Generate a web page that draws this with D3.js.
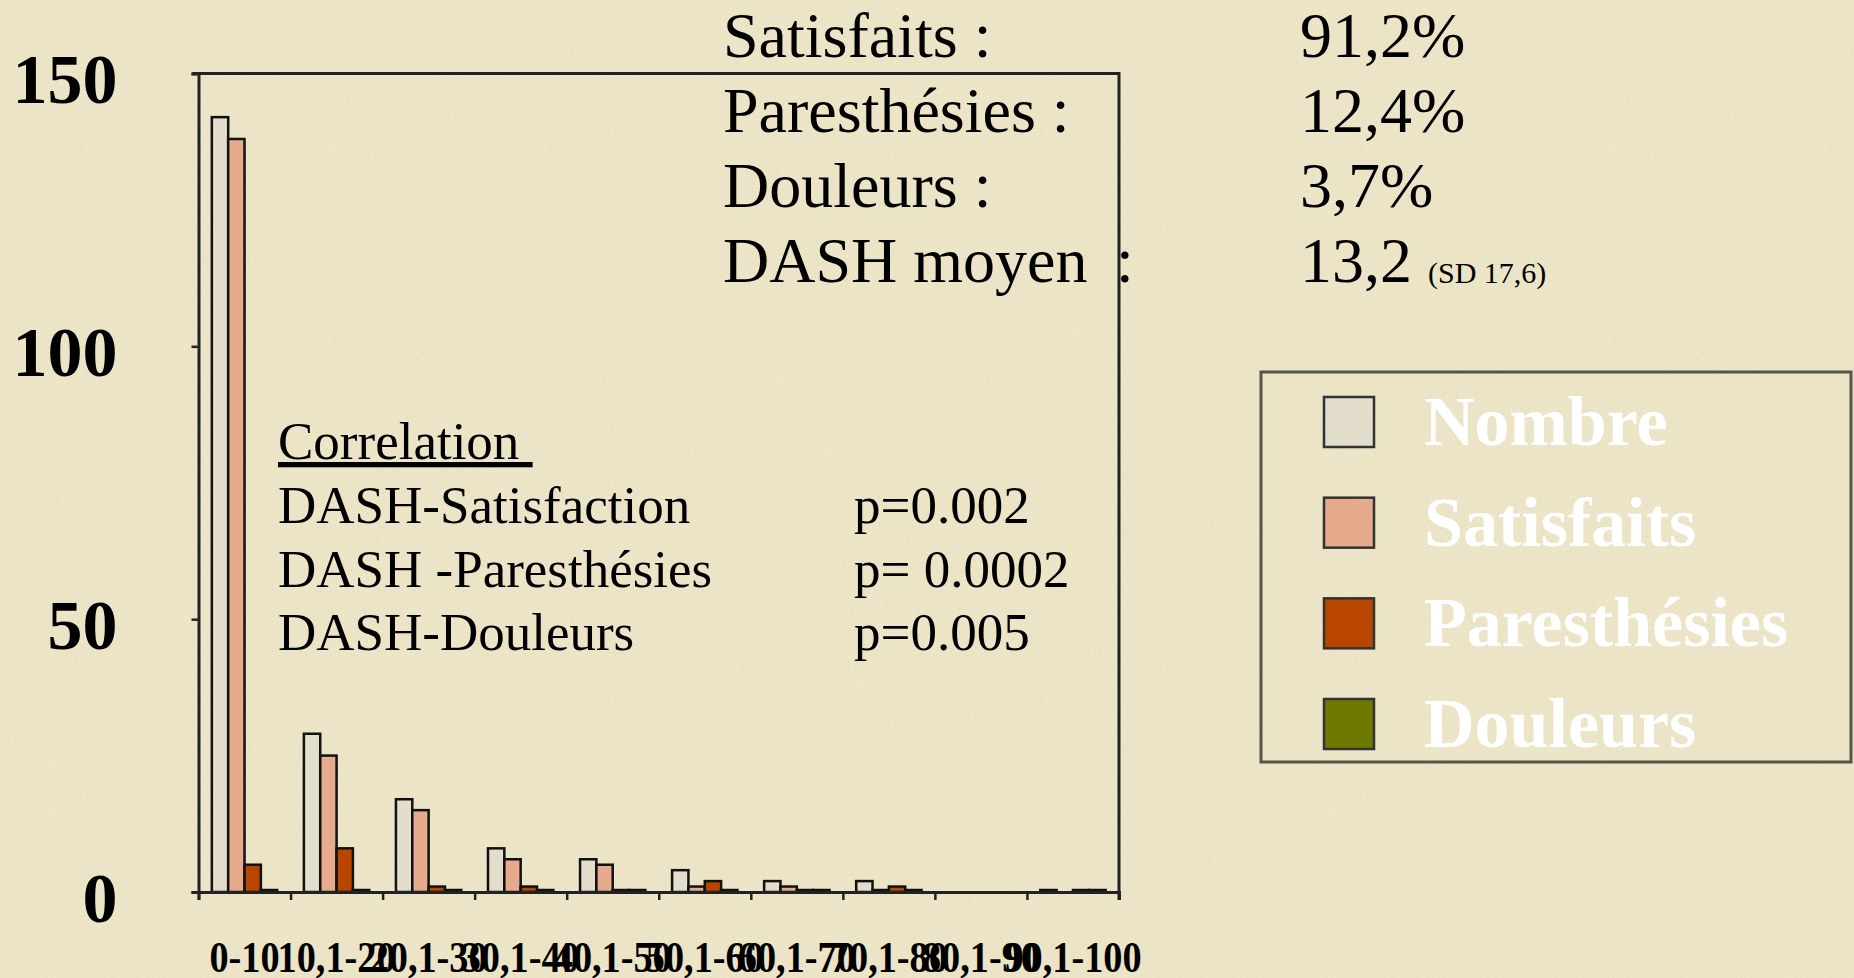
<!DOCTYPE html>
<html>
<head>
<meta charset="utf-8">
<script src="https://cdn.jsdelivr.net/npm/d3@7"></script>
<style>
html, body { margin: 0; padding: 0; background: #ECE5C8; overflow: hidden; }
svg text { font-family: "Liberation Serif", "Times New Roman", serif; }
</style>
</head>
<body>
<div id="chart"></div>
<script>
// categories (DASH score ranges)
var categories = ["0-10", "10,1-20", "20,1-30", "30,1-40", "40,1-50", "50,1-60", "60,1-70", "70,1-80", "80,1-90", "90,1-100"];

// series values (null = no value in the sheet)
var nombre       = [142, 29, 17, 8, 6, 4, 2, 2, null, 0];
var satisfaits   = [138, 25, 15, 6, 5, 1, 1, 0, null, null];
var paresthesies = [5, 8, 1, 1, 0, 2, 0, 1, null, 0];
var douleurs     = [0, 0, 0, 0, 0, 0, 0, 0, null, 0];

var seriesNames  = ["Nombre", "Satisfaits", "Paresthésies", "Douleurs"];
var seriesColors = ["#E3DDCB", "#E5AB8C", "#B84600", "#6F7900"];
var yTicks = [0, 50, 100, 150];

// text blocks
var summaryLabels = ["Satisfaits :", "Paresthésies :", "Douleurs :", "DASH moyen"];
var summaryValues = ["91,2%", "12,4%", "3,7%", "13,2"];
var corrTitle  = "Correlation\u00A0";
var corrLabels = ["DASH-Satisfaction", "DASH -Paresthésies", "DASH-Douleurs"];
var corrValues = ["p=0.002", "p= 0.0002", "p=0.005"];

var W = 1854, H = 978;
var plot = { left: 198.5, right: 1119, top: 73.5, bottom: 892 };

var svg = d3.select("#chart").append("svg")
	.attr("width", W)
	.attr("height", H);

// paper texture
var defs = svg.append("defs");
var f = defs.append("filter").attr("id", "paper").attr("x", 0).attr("y", 0).attr("width", 1).attr("height", 1);
f.append("feTurbulence").attr("type", "fractalNoise").attr("baseFrequency", "0.6 0.9").attr("numOctaves", 3).attr("seed", 3);
f.append("feColorMatrix").attr("type", "matrix")
	.attr("values", "0 0 0 0 0.6  0 0 0 0 0.55  0 0 0 0 0.4  0 0 0 -1.2 0.7");

svg.append("rect").attr("width", W).attr("height", H).attr("fill", "#EDE6C9");
svg.append("rect").attr("width", W).attr("height", H).attr("filter", "url(#paper)").attr("opacity", 0.45);

// scales
var x0 = d3.scaleBand()
	.domain(categories)
	.range([plot.left, plot.right])
	.paddingInner(0.29)
	.paddingOuter(0.145);

var x1 = d3.scaleBand()
	.domain(seriesNames)
	.range([0, x0.bandwidth()]);

var xEdge = d3.scaleLinear()
	.domain([0, categories.length])
	.range([plot.left, plot.right]);

var y = d3.scaleLinear()
	.domain([0, 150])
	.range([plot.bottom, plot.top]);

var color = d3.scaleOrdinal().domain(seriesNames).range(seriesColors);

// plot frame (top and right)
svg.append("path")
	.attr("d", "M" + (plot.left - 6) + "," + plot.top + "H" + plot.right + "V" + (plot.bottom + 8))
	.attr("fill", "none")
	.attr("stroke", "#222")
	.attr("stroke-width", 3);

// bars
var rows = categories.map(function(c, i) {
	return { cat: c, values: [nombre[i], satisfaits[i], paresthesies[i], douleurs[i]] };
});

var groups = svg.append("g").selectAll("g")
	.data(rows)
	.enter().append("g")
	.attr("transform", function(d) { return "translate(" + x0(d.cat) + ",0)"; });

groups.selectAll("rect")
	.data(function(d) {
		return seriesNames.map(function(s, k) { return { key: s, value: d.values[k] }; })
			.filter(function(e) { return e.value !== null; });
	})
	.enter().append("rect")
	.attr("x", function(d) { return x1(d.key); })
	.attr("y", function(d) { return Math.min(y(d.value), y(0) - 2); })
	.attr("width", x1.bandwidth())
	.attr("height", function(d) { return Math.max(2, y(0) - y(d.value)); })
	.attr("fill", function(d) { return d.value === 0 ? "#222" : color(d.key); })
	.attr("stroke", "#111")
	.attr("stroke-width", 2.5);

// y axis
var yAxis = svg.append("g")
	.attr("transform", "translate(" + plot.left + ",0)")
	.call(d3.axisLeft(y).tickValues(yTicks).tickSize(7).tickPadding(74).tickFormat(d3.format("d")));
yAxis.select(".domain").attr("stroke", "#222").attr("stroke-width", 3);
yAxis.selectAll(".tick line").attr("stroke", "#222").attr("stroke-width", 2.5);
yAxis.selectAll("text")
	.attr("fill", "#000")
	.attr("dy", "0.42em")
	.style("font-size", "70px")
	.style("font-weight", "bold");

// x axis: ticks at band edges
var xTicksAxis = svg.append("g")
	.attr("transform", "translate(0," + plot.bottom + ")")
	.call(d3.axisBottom(xEdge).ticks(categories.length).tickSize(8).tickFormat(""));
xTicksAxis.select(".domain").attr("stroke", "#222").attr("stroke-width", 3);
xTicksAxis.selectAll(".tick line").attr("stroke", "#222").attr("stroke-width", 2.5);

// x axis labels
var xLabels = svg.append("g")
	.attr("transform", "translate(0," + plot.bottom + ")")
	.call(d3.axisBottom(x0).tickSize(0).tickPadding(49));
xLabels.select(".domain").remove();
xLabels.selectAll("text")
	.attr("fill", "#000")
	.attr("transform", "scale(0.87,1)")
	.style("font-size", "44px")
	.style("font-weight", "bold");

// summary block (top)
var sumG = svg.append("g");
sumG.selectAll(".slab")
	.data(summaryLabels)
	.enter().append("text")
	.attr("class", "slab")
	.attr("x", 723)
	.attr("y", function(d, i) { return 57 + i * 75; })
	.style("font-size", "64px")
	.text(function(d) { return d; });
sumG.append("text")
	.attr("x", 1116)
	.attr("y", 57 + 3 * 75)
	.style("font-size", "64px")
	.text(":");
sumG.selectAll(".sval")
	.data(summaryValues)
	.enter().append("text")
	.attr("class", "sval")
	.attr("x", 1300)
	.attr("y", function(d, i) { return 57 + i * 75; })
	.style("font-size", "64px")
	.text(function(d) { return d; });
sumG.append("text")
	.attr("x", 1428)
	.attr("y", 283)
	.style("font-size", "30px")
	.text("(SD 17,6)");

// correlation block
var corrG = svg.append("g");
corrG.append("text")
	.attr("x", 278)
	.attr("y", 459)
	.style("font-size", "53px")
	.style("text-decoration", "underline")
	.text(corrTitle);
corrG.selectAll(".clab")
	.data(corrLabels)
	.enter().append("text")
	.attr("class", "clab")
	.attr("x", 278)
	.attr("y", function(d, i) { return 523 + i * 63.6; })
	.style("font-size", "53px")
	.text(function(d) { return d; });
corrG.selectAll(".cval")
	.data(corrValues)
	.enter().append("text")
	.attr("class", "cval")
	.attr("x", 854)
	.attr("y", function(d, i) { return 523 + i * 63.6; })
	.style("font-size", "53px")
	.text(function(d) { return d; });

// legend
var legend = svg.append("g");
legend.append("rect")
	.attr("x", 1261)
	.attr("y", 372)
	.attr("width", 590)
	.attr("height", 390)
	.attr("fill", "none")
	.attr("stroke", "#55554a")
	.attr("stroke-width", 3);

var legY = d3.scalePoint().domain(seriesNames).range([422, 724]);

var items = legend.selectAll(".item")
	.data(seriesNames)
	.enter().append("g")
	.attr("class", "item")
	.attr("transform", function(d) { return "translate(0," + legY(d) + ")"; });
items.append("rect")
	.attr("x", 1324)
	.attr("y", -25)
	.attr("width", 50)
	.attr("height", 50)
	.attr("fill", function(d) { return color(d); })
	.attr("stroke", "#333")
	.attr("stroke-width", 2.5);
items.append("text")
	.attr("x", 1424)
	.attr("y", 23)
	.attr("fill", "#fff")
	.style("font-size", "70px")
	.style("font-weight", "bold")
	.text(function(d) { return d; });
</script>
</body>
</html>
